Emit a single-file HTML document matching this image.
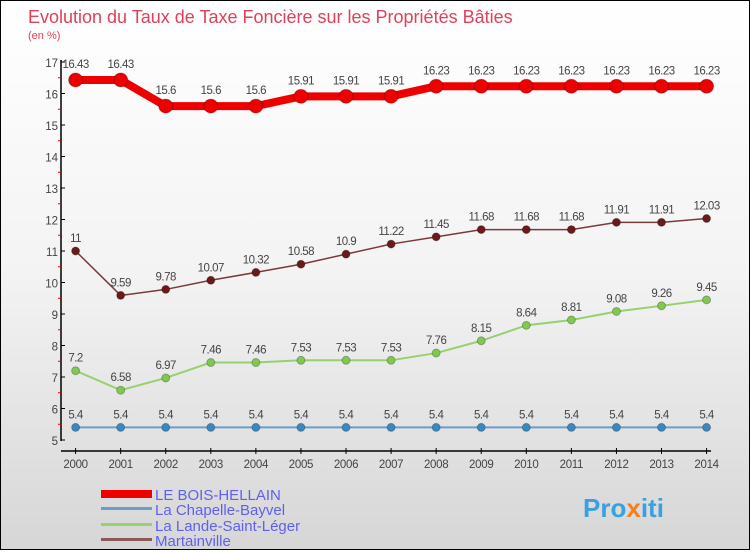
<!DOCTYPE html>
<html><head><meta charset="utf-8"><style>
body{margin:0;width:750px;height:550px;overflow:hidden;font-family:"Liberation Sans",sans-serif}
#c{position:absolute;left:0;top:0;width:748px;height:548px;border:1px solid #000;background:linear-gradient(#fff 0%,#f3f3f3 50%,#d6d6d6 100%)}
</style></head><body>
<div id="c">
<svg id="s" width="748" height="548" xmlns="http://www.w3.org/2000/svg">
<text x="27" y="22" font-size="18" fill="#e0405a">Evolution du Taux de Taxe Foncière sur les Propriétés Bâties</text>
<text x="27" y="38" font-size="11" fill="#e0405a">(en %)</text>
<g id="axes"></g><g id="series"></g>
<g>
<rect x="100" y="489" width="51" height="8" fill="#e00"/>
<text x="154" y="499" font-size="15" fill="#6060f0">LE BOIS-HELLAIN</text>
<rect x="100" y="506" width="51" height="3" fill="#6a9ec8"/>
<text x="154" y="514" font-size="15" fill="#6060f0">La Chapelle-Bayvel</text>
<rect x="100" y="522" width="51" height="3" fill="#98d070"/>
<text x="154" y="530" font-size="15" fill="#6060f0">La Lande-Saint-Léger</text>
<rect x="100" y="537" width="51" height="3" fill="#8a5a5a"/>
<text x="154" y="545" font-size="15" fill="#6060f0">Martainville</text>
</g>
<text x="582" y="516" font-size="26" font-weight="bold" fill="#3aa0e0">Pro<tspan fill="#f08020">x</tspan>iti</text>
</svg></div>
<script>
const years=[2000,2001,2002,2003,2004,2005,2006,2007,2008,2009,2010,2011,2012,2013,2014];
const bois=[16.43,16.43,15.6,15.6,15.6,15.91,15.91,15.91,16.23,16.23,16.23,16.23,16.23,16.23,16.23];
const chapelle=[5.4,5.4,5.4,5.4,5.4,5.4,5.4,5.4,5.4,5.4,5.4,5.4,5.4,5.4,5.4];
const lande=[7.2,6.58,6.97,7.46,7.46,7.53,7.53,7.53,7.76,8.15,8.64,8.81,9.08,9.26,9.45];
const martainville=[11,9.59,9.78,10.07,10.32,10.58,10.9,11.22,11.45,11.68,11.68,11.68,11.91,11.91,12.03];
const yTicks=[5,6,7,8,9,10,11,12,13,14,15,16,17];
const NS="http://www.w3.org/2000/svg";
const X=i=>74.6+i*45.07, Y=v=>439-(v-5)*31.5;
function mk(t,a,p){const e=document.createElementNS(NS,t);for(const k in a)e.setAttribute(k,a[k]);p.appendChild(e);return e;}
const ax=document.getElementById('axes'), sg=document.getElementById('series');
const ya=mk('line',{x1:60,y1:59,x2:60,y2:440,stroke:'#000','stroke-width':1.5},ax);

const xa=mk('line',{x1:60,y1:450,x2:710,y2:450,stroke:'#000','stroke-width':1.5},ax);

yTicks.forEach(v=>{
 mk('line',{x1:60,y1:Y(v),x2:64,y2:Y(v),stroke:'#000'},ax);
 if(v<17)mk('line',{x1:57,y1:Y(v+0.5),x2:60,y2:Y(v+0.5),stroke:'#e00'},ax);
 const t=mk('text',{x:57,y:Y(v)+5,'font-size':11.5,fill:'#444','text-anchor':'end'},ax);t.textContent=v;
 
});
years.forEach((y,i)=>{
 mk('line',{x1:X(i),y1:447,x2:X(i),y2:453,stroke:'#000'},ax);
 const t=mk('text',{x:X(i),y:467,'font-size':11.5,fill:'#444','text-anchor':'middle','letter-spacing':'-0.3'},ax);t.textContent=y;
 
});
function series(d,name,col,lw,r,dot){
 const g=mk('g',{},sg);
 mk('polyline',{points:d.map((v,i)=>X(i)+','+Y(v)).join(' '),fill:'none',stroke:col,'stroke-width':lw},g);
 d.forEach((v,i)=>{
  const c=mk('circle',{cx:X(i),cy:Y(v),r:r,fill:dot,stroke:'rgba(0,0,0,0.25)'},g);
  
  const t=mk('text',{x:X(i),y:Y(v)-(r+5),'font-size':11.5,fill:'#444','text-anchor':'middle','letter-spacing':'-0.5'},g);t.textContent=v;
  
 });
}
series(chapelle,'chapelle','#6a9ec8',2,4,'#3a88c0');
series(lande,'lande','#98d070',2,4,'#80c850');
series(martainville,'martainville','#7a3a3a',1.5,4,'#6a1a1a');
series(bois,'bois-hellain','#e00',8,7,'#e00');
</script>
</body></html>
